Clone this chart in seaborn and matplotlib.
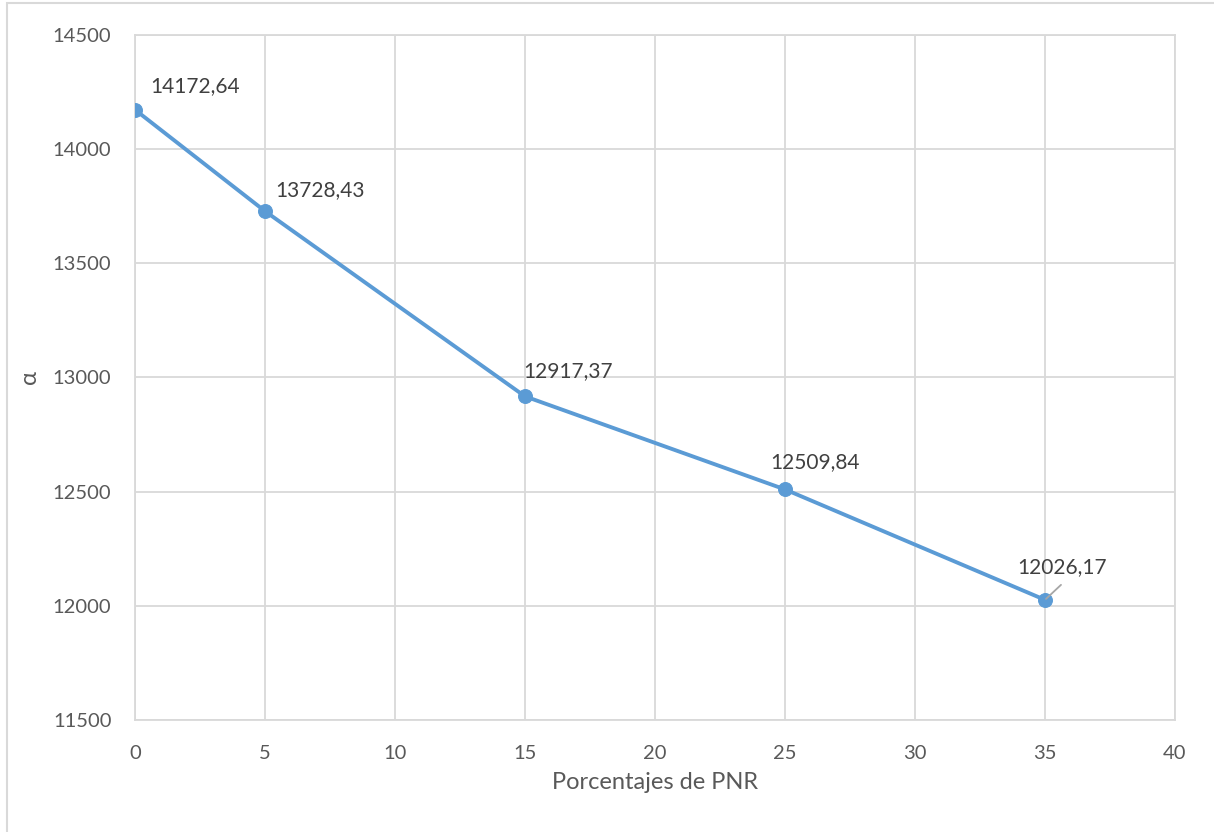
import numpy as np
import matplotlib.pyplot as plt
import seaborn as sns
import pandas as pd
from matplotlib.patches import Rectangle

# datos
porcentajes = [0, 5, 15, 25, 35]
alfa = [14172.64, 13728.43, 12917.37, 12509.84, 12026.17]
etiquetas = ["14172,64", "13728,43", "12917,37", "12509,84", "12026,17"]
x_ticks = [0, 5, 10, 15, 20, 25, 30, 35, 40]
y_ticks = [11500, 12000, 12500, 13000, 13500, 14000, 14500]

df = pd.DataFrame({"PNR": porcentajes, "alfa": alfa})

sns.set_style("white")
plt.rcParams["font.family"] = ["Lato", "DejaVu Sans"]

azul = "#5B9BD5"
gris = "#D9D9D9"
texto = "#595959"

fig = plt.figure(figsize=(12.14, 8.32), dpi=100)
ax = fig.add_axes([135 / 1214, 112 / 832, 1040 / 1214, 685 / 832])

# borde de la figura (solo se ve arriba y a la izquierda)
fig.patches.append(Rectangle((7 / 1214, -0.1), 1.2, 0.1 + 829 / 832,
                             transform=fig.transFigure, fill=False,
                             edgecolor=gris, linewidth=1.5, zorder=0))

sns.lineplot(data=df, x="PNR", y="alfa", ax=ax, color=azul, linewidth=2.8,
             marker="o", markersize=10, markeredgecolor=azul, zorder=3)

ax.set_xlim(0, 40)
ax.set_ylim(11500, 14500)
ax.set_xticks(x_ticks)
ax.set_yticks(y_ticks)
ax.grid(True, color=gris, linewidth=1.3)
for s in ax.spines.values():
    s.set_color(gris)
    s.set_linewidth(1.3)
ax.tick_params(length=0, labelsize=14.5, labelcolor=texto)
ax.tick_params(axis="y", pad=17)
ax.tick_params(axis="x", pad=18)

ax.set_xlabel("Porcentajes de PNR", fontsize=17, color=texto, labelpad=7)
ax.set_ylabel("α", fontsize=17, color=texto, labelpad=9)

# desplazamientos de las etiquetas en pixeles
offsets = [(15, 24), (10, 21), (-2, 25), (-15, 27), (-28, 33)]
for xv, yv, lab, off in zip(porcentajes, alfa, etiquetas, offsets):
    ax.annotate(lab, (xv, yv), xytext=off, textcoords="offset pixels",
                fontsize=15, color="#404040", va="center", ha="left", zorder=4)

# linea guia de la ultima etiqueta
ax.annotate("", (porcentajes[-1], alfa[-1]), xytext=(16, 15),
            textcoords="offset pixels",
            arrowprops=dict(arrowstyle="-", color="#A6A6A6", lw=1.3,
                            shrinkA=0, shrinkB=1), zorder=5)

plt.savefig("out.png", dpi=100)
